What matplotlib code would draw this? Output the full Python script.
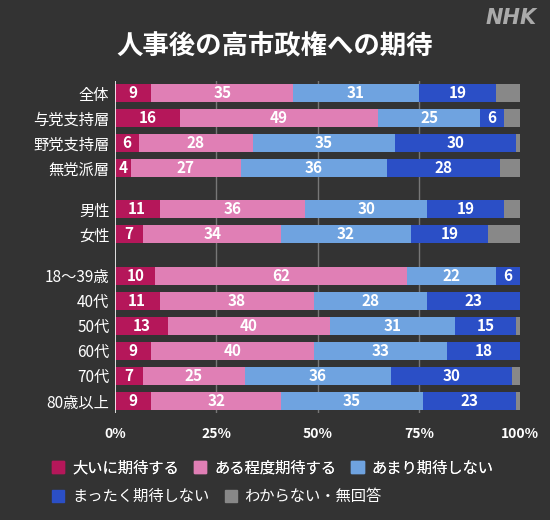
import matplotlib.pyplot as plt
from matplotlib.patches import Patch

plt.rcParams['font.family'] = ['Noto Sans CJK JP', 'DejaVu Sans']

labels = ['全体', '与党支持層', '野党支持層', '無党派層',
          '男性', '女性',
          '18～39歳', '40代', '50代', '60代', '70代', '80歳以上']
groups = [0, 0, 0, 0, 1, 1, 2, 2, 2, 2, 2, 2]
very = [9, 16, 6, 4, 11, 7, 10, 11, 13, 9, 7, 9]
some = [35, 49, 28, 27, 36, 34, 62, 38, 40, 40, 25, 32]
little = [31, 25, 35, 36, 30, 32, 22, 28, 31, 33, 36, 35]
none_ = [19, 6, 30, 28, 19, 19, 6, 23, 15, 18, 30, 23]
unknown = [6, 4, 1, 5, 4, 8, 0, 0, 1, 0, 2, 1]
series_names = ['大いに期待する', 'ある程度期待する', 'あまり期待しない', 'まったく期待しない', 'わからない・無回答']
colors = ['#b5175a', '#e07fb5', '#6fa3e0', '#2b4fc6', '#888888']

bg = '#333333'
fig = plt.figure(figsize=(5.5, 5.2), dpi=100)
fig.patch.set_facecolor(bg)
ax = fig.add_axes([0.209, 0.205, 0.737, 0.64])
ax.set_facecolor(bg)

# row positions with gaps between groups
ys = [i + g * 0.65 for i, g in enumerate(groups)]

for x in [25, 50, 75]:
    ax.axvline(x, color='#777777', lw=1, zorder=0)

data = [very, some, little, none_, unknown]
for idx, row_y in enumerate(ys):
    left = 0
    for s, vals in enumerate(data):
        v = vals[idx]
        ax.barh(row_y, v, left=left, height=0.72, color=colors[s], zorder=2)
        if s < 4 and v > 0:
            ax.text(left + v / 2, row_y, str(v), color='white', fontsize=11,
                    fontweight='bold', ha='center', va='center', zorder=3)
        left += v

ax.axvline(0, color='white', lw=1.2, zorder=4)
ax.set_xlim(0, 100)
ax.set_ylim(ys[-1] + 0.5, ys[0] - 0.5)
ax.set_yticks(ys)
ax.set_yticklabels(labels, color='white', fontsize=11)
ax.set_xticks([0, 25, 50, 75, 100])
ax.set_xticklabels(['0%', '25%', '50%', '75%', '100%'], color='white',
                   fontsize=10, fontweight='bold')
ax.tick_params(length=0, pad=4)
ax.xaxis.set_tick_params(pad=10)
for sp in ax.spines.values():
    sp.set_visible(False)

fig.text(0.5, 0.91, '人事後の高市政権への期待', color='white', fontsize=19,
         fontweight='bold', ha='center', va='center')
fig.text(0.975, 0.965, 'NHK', color='#aaaaaa', fontsize=15, fontweight='bold',
         fontstyle='italic', ha='right', va='center', family='DejaVu Sans')

handles = [Patch(color=c, label=n) for c, n in zip(colors, series_names)]
leg = fig.legend(handles=handles[:3], loc='center left', bbox_to_anchor=(0.07, 0.1),
                 ncol=3, frameon=False, handlelength=0.8, handleheight=0.8,
                 columnspacing=1.0, handletextpad=0.5, fontsize=11, labelcolor='white')
fig.legend(handles=handles[3:], loc='center left', bbox_to_anchor=(0.07, 0.045),
           ncol=2, frameon=False, handlelength=0.8, handleheight=0.8,
           columnspacing=1.0, handletextpad=0.5, fontsize=11, labelcolor='white')
fig.add_artist(leg)

fig.savefig('out.png', dpi=100, facecolor=bg)
